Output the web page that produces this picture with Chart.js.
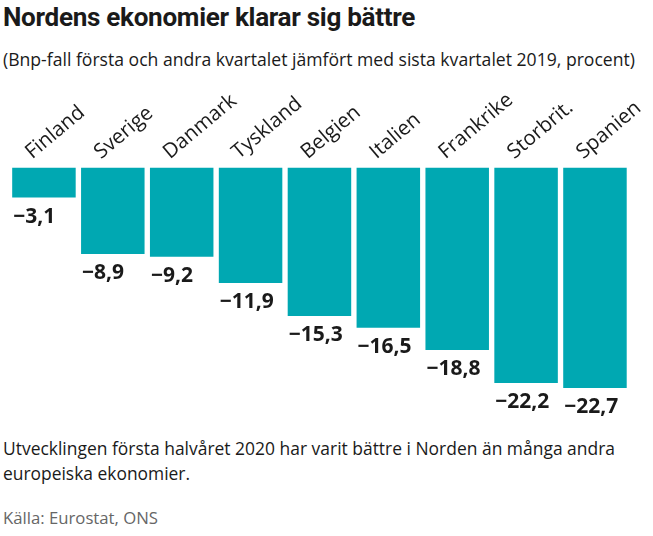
<!DOCTYPE html>
<html lang="sv">
<head>
<meta charset="utf-8">
<title>Nordens ekonomier klarar sig bättre</title>
<script src="https://cdn.jsdelivr.net/npm/chart.js@4.4.1/dist/chart.umd.min.js"></script>
<style>
    html, body { margin: 0; padding: 0; background: #fff; }
    body { width: 653px; height: 536px; position: relative; overflow: hidden; color: #1a1a1a; }
    .txt { position: absolute; left: 3px; white-space: nowrap; transform-origin: 0 0; }
    #title { top: 3px; font: 700 25px Roboto, sans-serif; letter-spacing: -0.3px; }
    #subtitle { top: 47px; font: 400 18px "Open Sans", sans-serif; }
    #note1 { top: 436px; font: 400 18px "Open Sans", sans-serif; }
    #note2 { top: 461px; font: 400 18px "Open Sans", sans-serif; }
    #source { top: 507px; font: 400 16px "Open Sans", sans-serif; color: #666; }
    #wrap { position: absolute; left: 0; top: 80px; width: 653px; height: 350px; }
</style>
</head>
<body>
<div class="txt" id="title" data-w="412">Nordens ekonomier klarar sig bättre</div>
<div class="txt" id="subtitle" data-w="632">(Bnp-fall första och andra kvartalet jämfört med sista kvartalet 2019, procent)</div>
<div id="wrap"><canvas id="bnpChart"></canvas></div>
<div class="txt" id="note1" data-w="612">Utvecklingen första halvåret 2020 har varit bättre i Norden än många andra</div>
<div class="txt" id="note2" data-w="187">europeiska ekonomier.</div>
<div class="txt" id="source" data-w="155">Källa: Eurostat, ONS</div>
<script>
// Data (Bnp-fall i procent)
const countries = ['Finland', 'Sverige', 'Danmark', 'Tyskland', 'Belgien', 'Italien', 'Frankrike', 'Storbrit.', 'Spanien'];
const gdpDrop = [-3.1, -8.9, -9.2, -11.9, -15.3, -16.5, -18.8, -22.2, -22.7];

const barColor = '#00a8b2';
const textColor = '#1a1a1a';

// Trycker ihop texten horisontellt så att bredden stämmer med originalet
document.querySelectorAll('.txt[data-w]').forEach(el => {
    const target = Number(el.dataset.w);
    const w = el.getBoundingClientRect().width;
    if (w > 0) el.style.transform = `scaleX(${target / w})`;
});

function formatValue(v) {
    return (v < 0 ? '\u2212' : '') + Math.abs(v).toFixed(1).replace('.', ',');
}

// Ritar landsnamn (snett ovanför staplarna) och värden under staplarna
const labelPlugin = {
    id: 'barLabels',
    afterDatasetsDraw(chart) {
        const ctx = chart.ctx;
        const meta = chart.getDatasetMeta(0);
        ctx.save();
        ctx.fillStyle = textColor;
        meta.data.forEach((bar, i) => {
            const left = bar.x - bar.width / 2;
            const top = Math.min(bar.y, bar.base);
            const bottom = Math.max(bar.y, bar.base);

            ctx.save();
            ctx.translate(left + 20, top - 8);
            ctx.rotate(-40 * Math.PI / 180);
            ctx.font = '400 20.5px "Open Sans", sans-serif';
            ctx.textAlign = 'left';
            ctx.textBaseline = 'alphabetic';
            ctx.fillText(countries[i], 0, 0);
            ctx.restore();

            ctx.font = '700 21px "Open Sans", sans-serif';
            ctx.textAlign = 'left';
            ctx.textBaseline = 'alphabetic';
            ctx.fillText(formatValue(gdpDrop[i]), left + 1, bottom + 25);
        });
        ctx.restore();
    }
};

document.addEventListener('DOMContentLoaded', () => {
    const ctx = document.getElementById('bnpChart').getContext('2d');
    new Chart(ctx, {
        type: 'bar',
        data: {
            labels: countries,
            datasets: [{
                label: 'Bnp-fall',
                data: gdpDrop,
                backgroundColor: barColor,
                borderWidth: 0,
                barPercentage: 0.922,
                categoryPercentage: 1
            }]
        },
        options: {
            responsive: true,
            maintainAspectRatio: false,
            animation: false,
            layout: {
                padding: { top: 87.5, bottom: 19.75, left: 9.5, right: 23.6 }
            },
            scales: {
                x: { display: false },
                y: { display: false, min: -25, max: 0 }
            },
            plugins: {
                legend: { display: false },
                tooltip: { enabled: false }
            }
        },
        plugins: [labelPlugin]
    });
});
</script>
</body>
</html>
